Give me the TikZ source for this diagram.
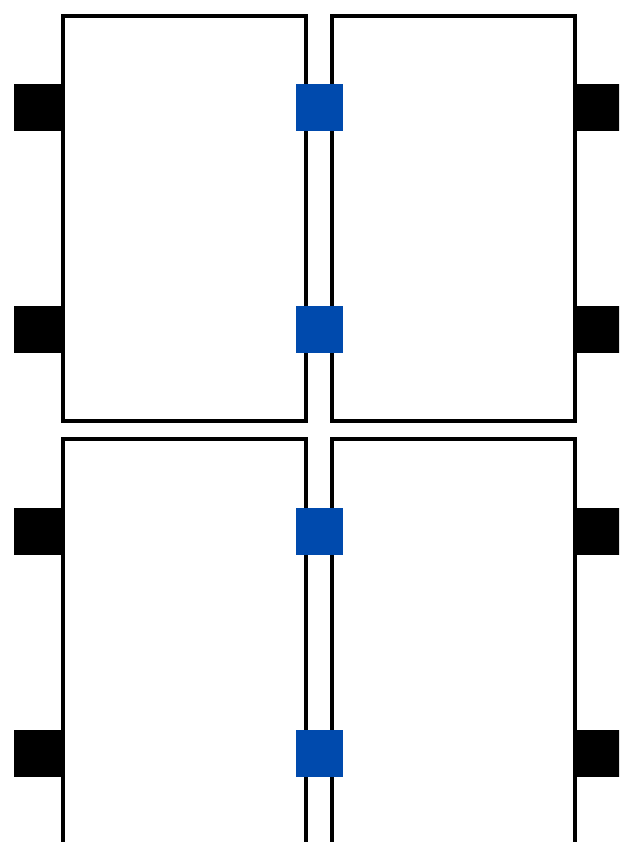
\documentclass[tikz,border=0pt]{standalone}
\usepackage{tikz}
\definecolor{linkblue}{RGB}{0,74,173}

\begin{document}
\begin{tikzpicture}[
x=1pt, y=-1pt,
panel/.style={draw=black, line width=4.5pt, minimum width=243pt, minimum height=405pt, inner sep=0pt, outer sep=0pt},
tab/.style={fill=black, minimum width=49pt, minimum height=47pt, inner sep=0pt, outer sep=0pt},
link/.style={fill=linkblue, minimum width=47pt, minimum height=47pt, inner sep=0pt, outer sep=0pt}
]
\useasboundingbox (0,0) rectangle (619,842);
\clip (0,0) rectangle (619,842);

% side tabs
\foreach \y [count=\i] in {107.5,329.5,531.5,753.5} {
  \node[tab] (lt\i) at (38.5,\y) {};
  \node[tab] (rt\i) at (599.5,\y) {};
}

\node[panel] (tl) at (184.5,218.5) {};
\node[panel] (tr) at (453.25,218.5) {};
\node[panel] (bl) at (184.5,641.5) {};
\node[panel] (br) at (453.25,641.5) {};

% links between the panels
\foreach \y [count=\i] in {107.5,329.5,531.5,753.5}
  \node[link] (lk\i) at (319.5,\y) {};
\end{tikzpicture}
\end{document}
